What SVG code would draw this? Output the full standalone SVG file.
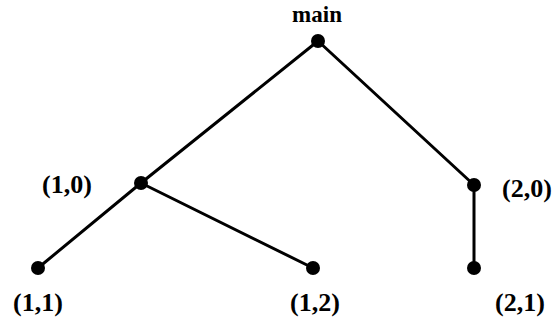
<svg xmlns="http://www.w3.org/2000/svg" width="556" height="326" viewBox="0 0 556 326">
<style>
.e{stroke:#000;stroke-width:3;fill:none;stroke-linecap:round}
.n{fill:#000}
</style>
<rect width="556" height="326" fill="#fff"/>
<g id="connectors">
<line class="e" x1="318" y1="41" x2="141" y2="183"/>
<line class="e" x1="318" y1="41" x2="474" y2="185"/>
<line class="e" x1="141" y1="183" x2="38" y2="268"/>
<line class="e" x1="141" y1="183" x2="313" y2="268"/>
<line class="e" x1="474" y1="185" x2="474" y2="268"/>
</g>
<g font-family="Liberation Serif, DejaVu Serif, serif" font-weight="bold" font-size="26" text-anchor="middle" fill="#000">
<g id="main"><circle class="n" cx="318" cy="41" r="7"/><text x="317" y="22" font-size="23">main</text></g>
<g id="n10"><circle class="n" cx="141" cy="183" r="7"/><text x="67" y="193">(1,0)</text></g>
<g id="n20"><circle class="n" cx="474" cy="185" r="7"/><text x="527" y="197">(2,0)</text></g>
<g id="n11"><circle class="n" cx="38" cy="268" r="7"/><text x="38" y="311">(1,1)</text></g>
<g id="n12"><circle class="n" cx="313" cy="268" r="7"/><text x="315" y="311">(1,2)</text></g>
<g id="n21"><circle class="n" cx="474" cy="268" r="7"/><text x="520" y="311">(2,1)</text></g>
</g>
</svg>
